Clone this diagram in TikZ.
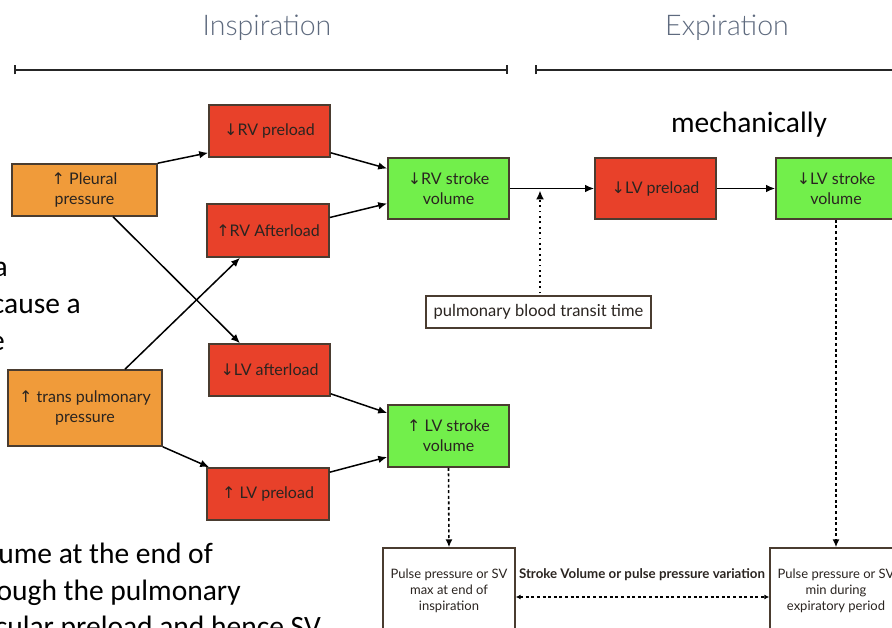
\documentclass[tikz,border=0pt]{standalone}
\usepackage{fontspec}
\setmainfont{Lato}
\newfontfamily\calfont{Carlito}
\newfontfamily\arrfont{DejaVu Sans}
\newfontfamily\lightfont{Lato}[UprightFont={* Light}]
\usetikzlibrary{arrows.meta,calc}
\definecolor{orangeF}{HTML}{F09B3A}
\definecolor{redF}{HTML}{E8412A}
\definecolor{greenF}{HTML}{72EF4B}
\definecolor{boxline}{HTML}{4A3C30}
\definecolor{titlec}{HTML}{5E6A7E}
\definecolor{txt}{HTML}{2A2420}
\newcommand\ArUp{{\arrfont\char"2191}}
\newcommand\ArDn{{\arrfont\char"2193}}
\tikzset{
  box/.style={draw=boxline, line width=1.6pt, align=center, inner sep=0pt, text=txt,
    font=\fontsize{16}{20}\selectfont},
  obox/.style={box, fill=orangeF},
  rbox/.style={box, fill=redF},
  gbox/.style={box, fill=greenF},
  wbox/.style={box, fill=white, line width=1.4pt, font=\fontsize{13}{16}\selectfont},
  arr/.style={line width=1.5pt, -{Latex[length=9pt,width=7.5pt]}},
  dotarr/.style={line width=2pt, dash pattern=on 1.8pt off 3.6pt, -{Latex[length=9pt,width=8pt]}},
  dasharr/.style={line width=1.6pt, dash pattern=on 3pt off 2.6pt, -{Latex[length=8pt,width=7pt]}},
  title/.style={text=titlec, font=\lightfont\fontsize{28.5}{32}\selectfont},
  cal/.style={font=\calfont\fontsize{29.5}{33}\selectfont, inner sep=0pt, anchor=base east},
  bracket/.style={line width=1.8pt, draw=black!85},
}
\begin{document}
\begin{tikzpicture}[x=1pt,y=-1pt]
\useasboundingbox (0,0) rectangle (892,628);
\clip (0,0) rectangle (892,628);

% titles and brackets
\node[title] (insp) at (267,28) {Inspiration};
\node[title] (expi) at (727,28) {Expiration};
\coordinate (ia) at (14,70); \coordinate (ib) at (508,70);
\coordinate (ea) at (535,70); \coordinate (eb) at (900,70);
\draw[bracket, {Bar[width=9pt]}-{Bar[width=9pt]}] (ia) -- (ib);
\draw[bracket, {Bar[width=9pt]}-] (ea) -- (eb);

\node[font=\calfont\fontsize{29.5}{33}\selectfont] (mech) at (749,125) {mechanically};

% background text fragments
\node[cal] (t1) at (8,277) {a};
\node[cal] (t2) at (81,314) {cause a};
\node[cal] (t3) at (5,351) {e};
\node[cal] (t4) at (213,563) {ume at the end of};
\node[cal] (t5) at (241,600) {ough the pulmonary};
\node[cal] (t6) at (321,636) {cular preload and hence SV};

% boxes
\node[obox, minimum width=145pt, minimum height=52pt] (pleural) at (84.5,190) {\ArUp\ Pleural\\pressure};
\node[rbox, minimum width=121pt, minimum height=52pt] (rvpre) at (269.5,131) {\ArDn RV preload};
\node[rbox, minimum width=122pt, minimum height=53pt] (rvafter) at (268,230.5) {\ArUp RV Afterload};
\node[gbox, minimum width=121pt, minimum height=61pt] (rvsv) at (448.5,188.5) {\ArDn RV stroke\\volume};
\node[rbox, minimum width=121pt, minimum height=61pt] (lvpreE) at (655.5,188.5) {\ArDn LV preload};
\node[gbox, minimum width=120pt, minimum height=61pt] (lvsvE) at (836,188.5) {\ArDn LV stroke\\volume};
\node[box, fill=white, line width=1.2pt, minimum width=225pt, minimum height=32pt,
      font=\fontsize{16.5}{19}\selectfont] (transit) at (538.5,312) {pulmonary blood transit time};
\node[rbox, minimum width=121pt, minimum height=52pt] (lvafter) at (269.5,370) {\ArDn LV afterload};
\node[obox, minimum width=154pt, minimum height=76pt] (transp) at (85,408) {\ArUp\ trans pulmonary\\pressure};
\node[gbox, minimum width=121pt, minimum height=62pt] (lvsv) at (448.5,436) {\ArUp\ LV stroke\\volume};
\node[rbox, minimum width=122pt, minimum height=52pt] (lvpreI) at (268,494) {\ArUp\ LV preload};
\node[wbox, minimum width=132pt, minimum height=86pt] (ppmax) at (449,591) {Pulse pressure or SV\\max at end of\\inspiration};
\node[wbox, minimum width=132pt, minimum height=86pt] (ppmin) at (836,591) {Pulse pressure or SV\\min during\\expiratory period};
\node[font=\bfseries\fontsize{13.3}{15}\selectfont, text=txt] (svlabel) at (642,575) {Stroke Volume or pulse pressure variation};

% connectors
\draw[arr] (pleural.north east) -- ($(rvpre.south west)+(0,-5)$);
\draw[arr] ($(rvpre.south east)+(0,-5)$) -- ($(rvsv.west)+(0,-20)$);
\draw[arr] ($(rvafter.east)+(0,-13)$) -- ($(rvsv.west)+(0,15)$);
\draw[arr] ($(pleural.south)+(28.5,0)$) -- ($(lvafter.north)+(-29.5,0)$);
\draw[arr] ($(transp.north)+(40,0)$) -- ($(rvafter.south)+(-28,0)$);
\draw[arr] ($(lvafter.south east)+(0,-3)$) -- ($(lvsv.west)+(0,-23)$);
\draw[arr] (transp.south east) -- ($(lvpreI.north west)+(3,0)$);
\draw[arr] ($(lvpreI.north east)+(0,5)$) -- ($(lvsv.west)+(0,21)$);
\draw[arr] (rvsv.east) -- (lvpreE.west);
\draw[arr] (lvpreE.east) -- (lvsvE.west);
\coordinate (tt) at ($(transit.north |- rvsv.east)+(1.5,2)$);
\draw[dotarr] ($(transit.north)+(1.5,-2)$) -- (tt);
\draw[dasharr] (lvsv.south) -- (ppmax.north);
\draw[dasharr] (lvsvE.south) -- (ppmin.north);
\draw[line width=1.5pt, dash pattern=on 3pt off 2.6pt, {Latex[length=5pt,width=5pt]}-{Latex[length=5pt,width=5pt]}]
  ($(ppmax.east)+(0,6)$) -- ($(ppmin.west)+(0,6)$);
\end{tikzpicture}
\end{document}
